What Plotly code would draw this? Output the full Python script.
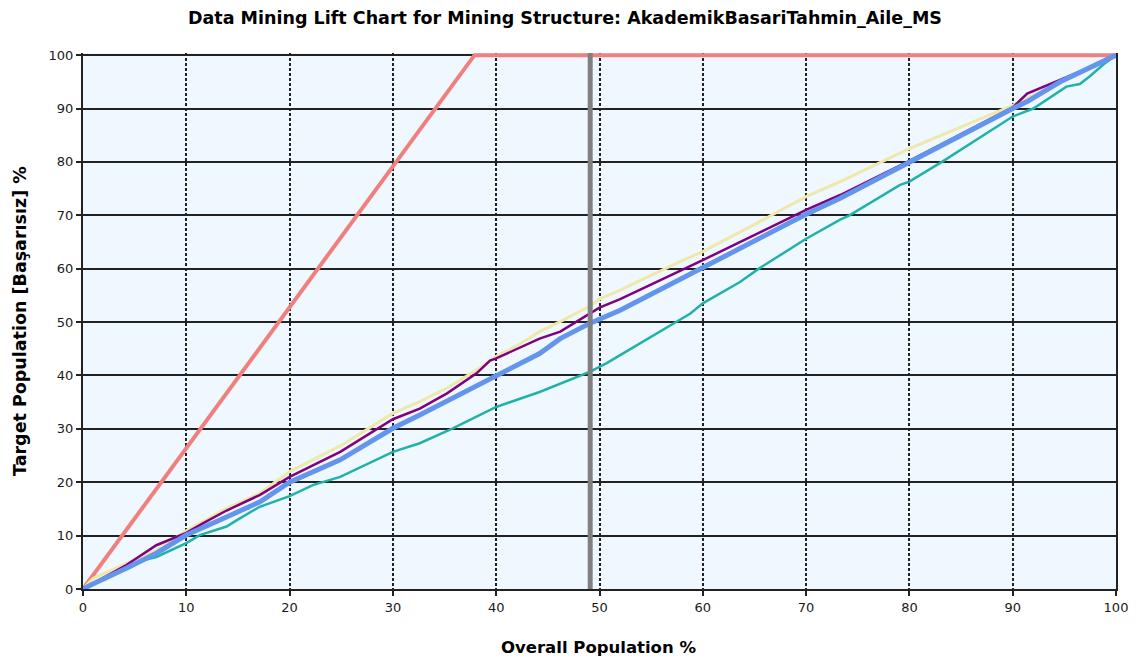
import plotly.graph_objects as go

# Ideal model
ideal_x = [0, 37.9, 100]
ideal_y = [0, 100, 100]

# Random guess / diagonal (blue)
blue_x = [0, 1, 4.2, 7.1, 10, 11.6, 13.9, 17.1, 20, 24.9, 30, 32.6, 40, 44.2, 46.2, 49.1, 52, 60, 70, 73.3, 80, 90, 91.4, 94.6, 100]
blue_y = [0, 1.0, 3.9, 6.7, 10.1, 11.4, 13.5, 16.3, 20.0, 24.2, 30.1, 32.6, 40.1, 44.1, 46.9, 49.8, 52.2, 60.2, 70.2, 73.2, 80.0, 90.0, 91.3, 95.0, 100]

# Yellow model
yellow_x = [0, 1, 4.2, 7.1, 10, 11.6, 13.9, 17.1, 20, 24.9, 30, 32.6, 35.2, 38.1, 40, 42.3, 44.2, 46.2, 49.1, 50, 52, 58.1, 60, 65.2, 70, 73.3, 80, 90, 95, 100]
yellow_y = [0, 2.0, 4.8, 7.3, 10.9, 12.6, 15.1, 17.9, 22.0, 26.8, 32.9, 35.1, 37.6, 41.0, 43.6, 45.9, 48.2, 50.1, 53.0, 54.3, 56.0, 61.6, 63.2, 68.5, 73.5, 76.3, 82.5, 90.6, 95.3, 100]

# Purple model
purple_x = [0, 4.2, 7.1, 10, 11.6, 13.9, 17.1, 20, 24.9, 30, 32.6, 35.2, 38.1, 39.4, 40, 42.3, 44.2, 46.2, 50, 52, 60, 70, 73.3, 80, 86.8, 90, 91.4, 94.6, 96.5, 100]
purple_y = [0, 4.5, 8.2, 10.5, 12.3, 14.7, 17.6, 21.0, 25.7, 31.8, 33.8, 36.6, 40.4, 42.8, 43.2, 45.3, 46.9, 48.2, 52.7, 54.3, 61.6, 71.0, 73.8, 80.2, 86.9, 90.2, 92.8, 95.3, 96.9, 100]

# Teal model
teal_x = [0, 4.2, 5.8, 7.1, 10, 11.3, 13.9, 14.9, 17.1, 20, 22.3, 24.9, 30, 32.6, 35.8, 40, 42.3, 44.2, 49.1, 50.7, 52, 53.9, 58.8, 60, 63.6, 65.5, 70, 73.3, 74.2, 79.1, 80, 83.3, 90, 92, 93.6, 95.2, 96.5, 97.5, 98.8, 100]
teal_y = [0, 3.8, 5.4, 6.0, 8.6, 10.1, 11.7, 12.9, 15.4, 17.4, 19.5, 21.0, 25.7, 27.3, 30.1, 34.1, 35.6, 36.9, 40.7, 42.3, 43.8, 46.0, 51.6, 53.5, 57.5, 60.1, 65.6, 69.2, 70.0, 75.7, 76.3, 80.2, 88.5, 90.0, 92.1, 94.1, 94.6, 96.1, 98.3, 100]

# Cursor line
cursor_x = [49.1, 49.1]
cursor_y = [0, 100.4]

x_ticks = [0, 10, 20, 30, 40, 50, 60, 70, 80, 90, 100]
y_ticks = [0, 10, 20, 30, 40, 50, 60, 70, 80, 90, 100]

FONT = "DejaVu Sans"
TOP, BOTTOM, LEFT, RIGHT = 53, 75, 83, 30
PLOT_H = 664 - TOP - BOTTOM
PLOT_W = 1146 - LEFT - RIGHT

fig = go.Figure()
fig.add_trace(go.Scatter(x=ideal_x, y=ideal_y, mode="lines", line=dict(color="#F08080", width=4), hoverinfo="skip"))
fig.add_trace(go.Scatter(x=teal_x, y=teal_y, mode="lines", line=dict(color="#20B2AA", width=2.5), hoverinfo="skip"))
fig.add_trace(go.Scatter(x=yellow_x, y=yellow_y, mode="lines", line=dict(color="#EEE8AA", width=3), hoverinfo="skip"))
fig.add_trace(go.Scatter(x=purple_x, y=purple_y, mode="lines", line=dict(color="#800080", width=2.5), hoverinfo="skip"))
fig.add_trace(go.Scatter(x=blue_x, y=blue_y, mode="lines", line=dict(color="#6495ED", width=5), hoverinfo="skip"))
fig.add_trace(go.Scatter(x=cursor_x, y=cursor_y, mode="lines", line=dict(color="#808080", width=5), hoverinfo="skip"))

fig.update_layout(
    width=1146, height=664,
    margin=dict(l=LEFT, r=RIGHT, t=TOP, b=BOTTOM),
    paper_bgcolor="white",
    plot_bgcolor="#F0F8FF",
    showlegend=False,
    title=dict(text="Data Mining Lift Chart for Mining Structure: AkademikBasariTahmin_Aile_MS",
               x=565/1146, xanchor="center", xref="container", y=1-18/664, yanchor="middle", yref="container",
               font=dict(family=FONT, size=17.5, color="#000000", weight="bold")),
    font=dict(family=FONT, size=13, color="#1a1a1a"),
    annotations=[
        dict(text="<b>Overall Population %</b>", xref="paper", yref="paper",
             x=(598 - LEFT) / PLOT_W, y=-(647 - 589) / PLOT_H, xanchor="center", yanchor="middle",
             showarrow=False, font=dict(family=FONT, size=16.5, color="#000000")),
        dict(text="<b>Target Population [Başarısız] %</b>", xref="paper", yref="paper",
             x=-(LEFT - 20) / PLOT_W, y=(589 - 321) / PLOT_H, xanchor="center", yanchor="middle",
             textangle=-90, showarrow=False, font=dict(family=FONT, size=17.5, color="#000000")),
    ],
)

fig.update_xaxes(
    range=[0, 100], tickvals=x_ticks, ticktext=[str(v) for v in x_ticks],
    showgrid=True, gridcolor="#222222", gridwidth=1.5, griddash="3px,2px",
    showline=True, linecolor="#222222", linewidth=2, mirror=False,
    ticks="outside", ticklen=5, tickcolor="#222222", tickwidth=1.5,
    zeroline=False, automargin=False,
    tickfont=dict(family=FONT, size=13, color="#1a1a1a"),
)
fig.update_yaxes(
    range=[0, 100.4], tickvals=y_ticks, ticktext=[str(v) for v in y_ticks],
    showgrid=True, gridcolor="#222222", gridwidth=1.5,
    showline=True, linecolor="#222222", linewidth=2, mirror=True,
    ticks="outside", ticklen=5, tickcolor="#222222", tickwidth=1.5,
    zeroline=False, automargin=False,
    tickfont=dict(family=FONT, size=13, color="#1a1a1a"),
)

fig.write_html("out.html")
